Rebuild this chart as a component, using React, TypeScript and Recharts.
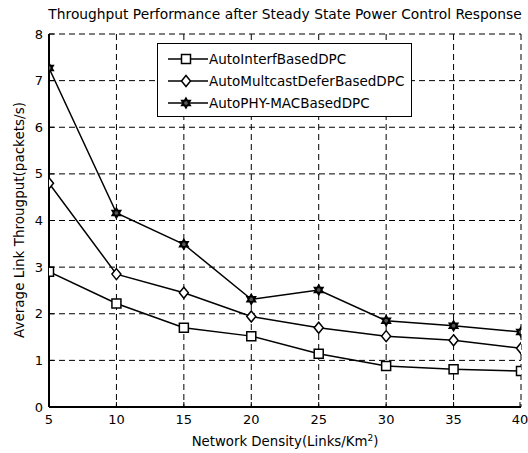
import React from 'react';
import { LineChart, Line, XAxis, YAxis, CartesianGrid, Customized } from 'recharts';

const xValues = [5, 10, 15, 20, 25, 30, 35, 40];
const interfBased = [2.9, 2.22, 1.7, 1.52, 1.14, 0.88, 0.81, 0.77];
const multicastDefer = [4.8, 2.85, 2.45, 1.94, 1.7, 1.52, 1.43, 1.26];
const phyMac = [7.27, 4.16, 3.49, 2.31, 2.51, 1.85, 1.74, 1.61];
const seriesNames = ['AutoInterfBasedDPC', 'AutoMultcastDeferBasedDPC', 'AutoPHY-MACBasedDPC'];
const xTicks = [5, 10, 15, 20, 25, 30, 35, 40];
const yTicks = [0, 1, 2, 3, 4, 5, 6, 7, 8];
const titleText = 'Throughput Performance after Steady State Power Control Response';
const xLabelText = 'Network Density(Links/Km';
const yLabelText = 'Average Link Througput(packets/s)';

const data = xValues.map((x, i) => ({ x, a: interfBased[i], b: multicastDefer[i], c: phyMac[i] }));

const FONT = '"DejaVu Sans", sans-serif';

const squarePath = (cx: number, cy: number) => `M${cx - 4.5},${cy - 4.5}h9v9h-9z`;
const diamondPath = (cx: number, cy: number) => `M${cx},${cy - 5.5}L${cx + 4.5},${cy}L${cx},${cy + 5.5}L${cx - 4.5},${cy}Z`;
const hexPath = (cx: number, cy: number) => {
  const r = 5;
  const t1 = [0, 1, 2].map((k) => {
    const a = -Math.PI / 2 + (k * 2 * Math.PI) / 3;
    return `${cx + r * Math.cos(a)},${cy + r * Math.sin(a)}`;
  });
  const t2 = [0, 1, 2].map((k) => {
    const a = Math.PI / 2 + (k * 2 * Math.PI) / 3;
    return `${cx + r * Math.cos(a)},${cy + r * Math.sin(a)}`;
  });
  return `M${t1.join('L')}Z M${t2.join('L')}Z`;
};

const markerFill = ['white', 'white', '#555'];

const makeDot = (kind: number) => (props: any) => {
  const { cx, cy, index } = props;
  if (cx == null || cy == null) return <g key={`e${kind}-${index}`} />;
  const d = kind === 0 ? squarePath(cx, cy) : kind === 1 ? diamondPath(cx, cy) : hexPath(cx, cy);
  return <path key={`d${kind}-${index}`} d={d} fill={markerFill[kind]} stroke="black" strokeWidth={1.5} />;
};

const LegendBox = () => (
  <div
    style={{
      position: 'absolute',
      left: 157,
      top: 43,
      width: 253,
      height: 72,
      border: '1px solid black',
      background: 'white',
      fontFamily: FONT,
      fontSize: 13.5,
      boxSizing: 'content-box',
    }}
  >
    {seriesNames.map((name, i) => (
      <div key={name} style={{ position: 'absolute', left: 8, top: 5 + i * 22, height: 20, display: 'flex', alignItems: 'center' }}>
        <svg width={43} height={20}>
          <line x1={2} y1={10} x2={42} y2={10} stroke="black" strokeWidth={1.5} />
          <path d={i === 0 ? squarePath(20, 10) : i === 1 ? diamondPath(20, 10) : hexPath(20, 10)} fill={markerFill[i]} stroke="black" strokeWidth={1.5} />
        </svg>
        <span style={{ whiteSpace: 'nowrap' }}>{name}</span>
      </div>
    ))}
  </div>
);

const YTick = (props: any) => {
  const { x, y, payload } = props;
  return (
    <g>
      <line x1={x + 6} y1={y} x2={x + 11} y2={y} stroke="black" strokeWidth={1} />
      <text x={x} y={y} dy="0.35em" textAnchor="end" fontFamily={FONT} fontSize={13} fill="black">
        {payload.value}
      </text>
    </g>
  );
};

const XTick = (props: any) => {
  const { x, y, payload } = props;
  return (
    <g>
      <line x1={x} y1={y - 7} x2={x} y2={y - 12} stroke="black" strokeWidth={1} />
      <text x={x} y={y} dy="0.75em" textAnchor="middle" fontFamily={FONT} fontSize={13} fill="black">
        {payload.value}
      </text>
    </g>
  );
};

const Labels = () => (
  <g fontFamily={FONT} fill="black">
    <text x={285} y={19} textAnchor="middle" fontSize={13.8}>{titleText}</text>
    <text x={285} y={446} textAnchor="middle" fontSize={13.3}>
      {xLabelText}
      <tspan dy={-5} fontSize={9}>2</tspan>
      <tspan dy={5}>)</tspan>
    </text>
    <text x={24} y={220} textAnchor="middle" fontSize={13.5} transform="rotate(-90 24 220)">{yLabelText}</text>
  </g>
);

export default function App() {
  return (
    <div style={{ position: 'absolute', left: 0, top: 0, width: 528, height: 453, background: 'white' }}>
      <LineChart width={528} height={453} data={data} margin={{ top: 34, right: 7, bottom: 0, left: 0 }}>
        <CartesianGrid stroke="black" strokeDasharray="6 4" strokeWidth={1} />
        <XAxis
          dataKey="x"
          type="number"
          domain={[5, 40]}
          ticks={xTicks}
          height={46}
          tickSize={4}
          tickMargin={3}
          tickLine={false}
          axisLine={{ stroke: 'black', strokeWidth: 2 }}
          tick={<XTick />}
          allowDataOverflow
        />
        <YAxis
          type="number"
          domain={[0, 8]}
          ticks={yTicks}
          width={49}
          tickSize={4}
          tickMargin={2}
          tickLine={false}
          axisLine={{ stroke: 'black', strokeWidth: 2 }}
          tick={<YTick />}
          allowDataOverflow
        />
        <Line dataKey="a" stroke="black" strokeWidth={1.5} dot={makeDot(0)} isAnimationActive={false} />
        <Line dataKey="b" stroke="black" strokeWidth={1.5} dot={makeDot(1)} isAnimationActive={false} />
        <Line dataKey="c" stroke="black" strokeWidth={1.5} dot={makeDot(2)} isAnimationActive={false} />
        <Customized component={Labels} />
      </LineChart>
      <LegendBox />
    </div>
  );
}
